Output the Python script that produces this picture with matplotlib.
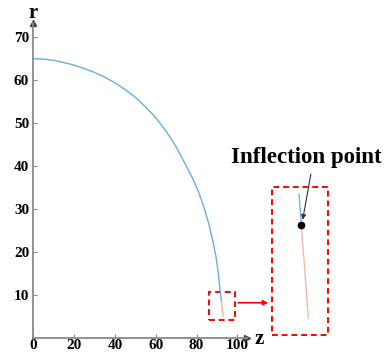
import matplotlib
matplotlib.use("Agg")
import matplotlib.pyplot as plt
from matplotlib.patches import Rectangle

# main curve (blue part)
z_blue = [0, 5, 10, 15, 20, 25, 30, 35, 40, 45, 50, 55, 60, 65, 70, 74, 78, 81, 84,
          86, 88, 89.5, 90.5, 91.3, 92.2]
r_blue = [65.0, 64.9, 64.6, 64.1, 63.5, 62.7, 61.8, 60.7, 59.4, 57.8, 56.0, 53.8, 51.3,
          48.2, 44.5, 40.9, 37.2, 34.0, 29.9, 26.6, 22.6, 19.0, 15.8, 12.2, 8.5]
# main curve (orange part after inflection)
z_orange = [92.2, 93.0]
r_orange = [8.5, 5.1]

# magnified view (drawn in the inset box)
inset_z_blue = [130.2, 131.4]
inset_r_blue = [33.5, 26.3]
inset_z_orange = [131.4, 134.8]
inset_r_orange = [26.3, 4.6]
inflection = (131.4, 26.3)

x_ticks = [0, 20, 40, 60, 80, 100]
y_ticks = [10, 20, 30, 40, 50, 60, 70]

BLUE = "#6aaede"
ORANGE = "#f2b39c"
GRAY = "#8a8a8a"
serif = ["Liberation Serif", "DejaVu Serif"]

fig = plt.figure(figsize=(3.85, 3.56), dpi=100)
ax = fig.add_axes([0.0865, 0.0506, 0.5543, 0.8848])
ax.set_xlim(0, 104.6)
ax.set_ylim(0, 73.3)

ax.plot(z_blue, r_blue, color=BLUE, lw=1.0)
ax.plot(z_orange, r_orange, color=ORANGE, lw=1.0)

for s in ["top", "right"]:
    ax.spines[s].set_visible(False)
for s in ["left", "bottom"]:
    ax.spines[s].set_color(GRAY)
    ax.spines[s].set_linewidth(1.3)

ax.set_xticks(x_ticks)
ax.set_yticks(y_ticks)
ax.tick_params(direction="in", length=3, width=0.8, color=GRAY)
ax.tick_params(axis="x", pad=1)
ax.tick_params(axis="y", pad=3)
for lab in ax.get_xticklabels() + ax.get_yticklabels():
    lab.set_fontfamily(serif)
    lab.set_fontweight("bold")
    lab.set_fontsize(11)

# axis arrows
ax.plot(1, 0, ">", color="#444444", ms=4, transform=ax.transAxes, clip_on=False)
ax.plot(0, 1, "^", color="#444444", ms=4, transform=ax.transAxes, clip_on=False)

fig.text(33.5 / 385, 1 - 13 / 356, "r", family=serif, weight="bold", fontsize=15,
         ha="center", va="center")
fig.text(259 / 385, 1 - 339 / 356, "z", family=serif, weight="bold", fontsize=15,
         ha="center", va="center")

# small dashed box around inflection region
ax.add_patch(Rectangle((86.0, 4.2), 12.8, 6.5, fill=False, ec="red", lw=1.4,
                       ls=(0, (3, 2)), clip_on=False))
# large dashed inset box
ax.add_patch(Rectangle((116.8, 0.7), 27.4, 34.5, fill=False, ec="red", lw=1.4,
                       ls=(0, (3, 2)), clip_on=False))
# red arrow
ax.annotate("", xy=(116.5, 8.2), xytext=(99.0, 8.2),
            arrowprops=dict(arrowstyle="-|>", color="red", lw=1.2, mutation_scale=7),
            annotation_clip=False)

ax.plot(inset_z_blue, inset_r_blue, color=BLUE, lw=0.9, clip_on=False)
ax.plot(inset_z_orange, inset_r_orange, color=ORANGE, lw=0.9, clip_on=False)
ax.plot([inflection[0]], [inflection[1]], "o", color="black", ms=4.5, clip_on=False)

ax.annotate("", xy=(inflection[0] + 0.4, inflection[1] + 0.6), xytext=(136.3, 38.8),
            arrowprops=dict(arrowstyle="-|>", color="#333333", lw=0.8, mutation_scale=7),
            annotation_clip=False)
fig.text(306 / 385, 1 - 157 / 356, "Inflection point", family=serif, weight="bold",
         fontsize=16.5, ha="center", va="center")

fig.savefig("out.png", dpi=100)
